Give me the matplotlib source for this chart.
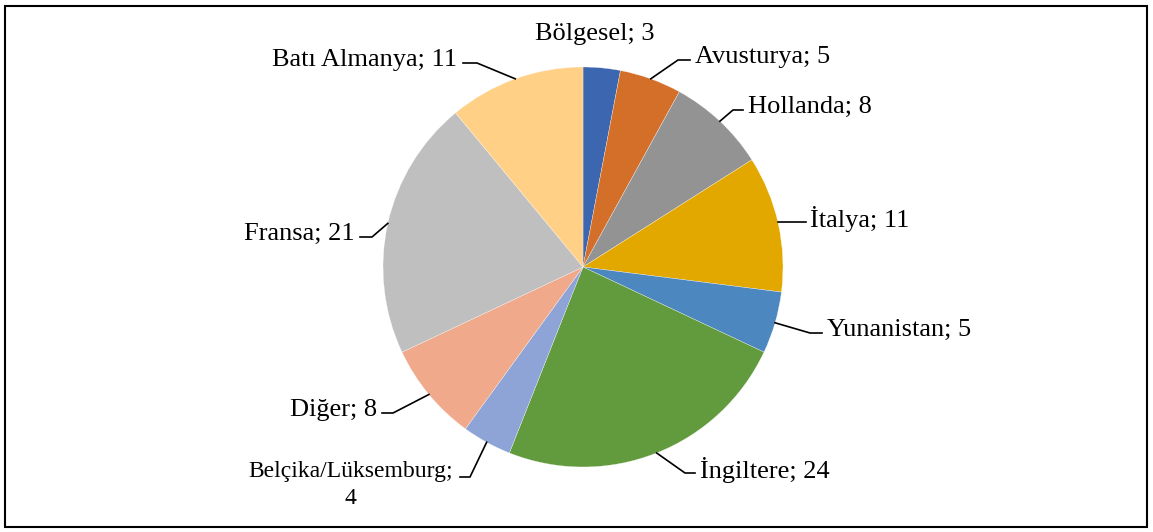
import numpy as np
import matplotlib.pyplot as plt
from matplotlib.patches import Rectangle

plt.rcParams["font.family"] = ["Liberation Serif", "DejaVu Serif"]

labels = ["Bölgesel", "Avusturya", "Hollanda", "İtalya", "Yunanistan",
          "İngiltere", "Belçika/Lüksemburg;\n", "Diğer", "Fransa", "Batı Almanya"]
values = [3, 5, 8, 11, 5, 24, 4, 8, 21, 11]
colors = ["#3d66b0", "#d46f29", "#939393", "#e2a800", "#4d87bf",
          "#629b3e", "#8ea4d6", "#f0a98a", "#bfbfbf", "#ffd085"]

# label layout in axes data units (pie radius = 1):
# (text x, line y, elbow x, line end x, ha)
layout = [
    (0.06, 1.15, None, None, "center"),
    (0.56, 1.035, 0.475, 0.535, "left"),
    (0.825, 0.785, 0.75, 0.80, "left"),
    (1.135, 0.225, None, 1.115, "left"),
    (1.22, -0.33, 1.135, 1.195, "left"),
    (0.585, -1.03, 0.51, 0.56, "left"),
    (-0.65, -1.05, -0.565, -0.615, "right"),
    (-1.03, -0.73, -0.95, -1.005, "right"),
    (-1.14, 0.15, -1.055, -1.115, "right"),
    (-0.63, 1.02, -0.53, -0.60, "right"),
]

W, H = 1153, 532
fig = plt.figure(figsize=(W / 100, H / 100), dpi=100)
fig.patches.append(Rectangle((5 / W, 5 / H), 1142 / W, 521 / H, transform=fig.transFigure,
                             fill=False, edgecolor="black", linewidth=1.5))

ax = fig.add_axes([383 / W, 1 - 467 / H, 400 / W, 400 / H])
wedges, _ = ax.pie(values, colors=colors, startangle=90, counterclock=False, radius=1,
                   wedgeprops=dict(edgecolor="white", linewidth=0.2))
ax.set_xlim(-1, 1)
ax.set_ylim(-1, 1)
ax.set_aspect("equal")
ax.axis("off")

total = sum(values)
cum = 0
for lab, v, (tx, ly, ex, endx, ha) in zip(labels, values, layout):
    mid = 90 - (cum + v / 2) / total * 360
    cum += v
    ax0 = np.cos(np.radians(mid))
    ay0 = np.sin(np.radians(mid))
    if endx is not None:
        if ex is None:
            xs, ys = [ax0, endx], [ly, ly]
        else:
            xs, ys = [ax0, ex, endx], [ay0, ly, ly]
        ax.plot(xs, ys, color="black", linewidth=1.2, clip_on=False)
    if lab.endswith("\n"):
        ax.text(tx, ly + 0.08, f"{lab.strip()}\n{v}", ha=ha, va="top", multialignment="center",
                fontsize=17, linespacing=1.4, clip_on=False)
    else:
        ax.text(tx, ly + 0.015, f"{lab}; {v}", ha=ha, va="center", fontsize=19, clip_on=False)

fig.savefig("out.png", dpi=100)
